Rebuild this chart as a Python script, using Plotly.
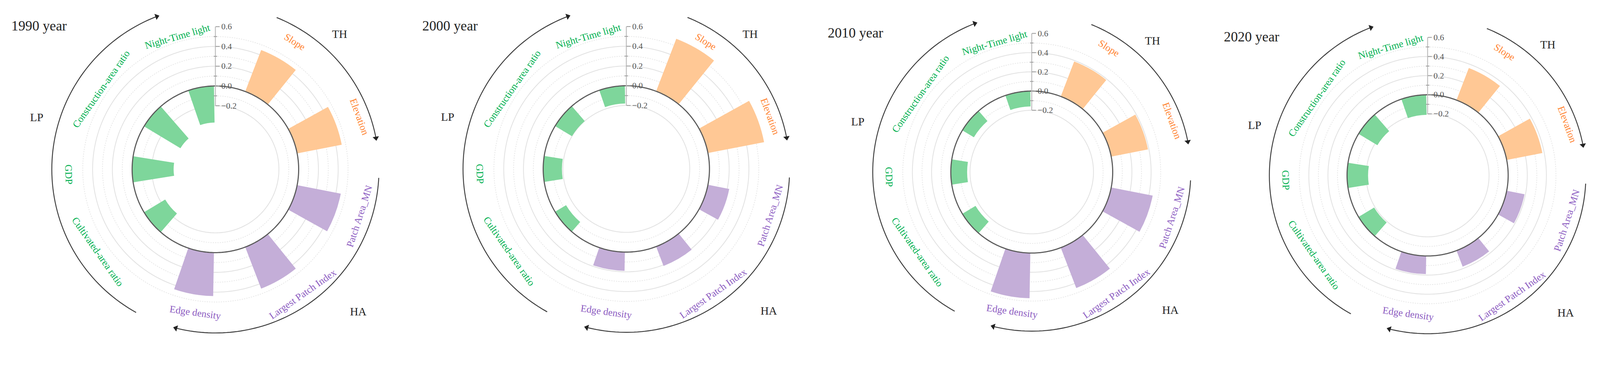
import math
import numpy as np
import plotly.graph_objects as go

# indicators, clockwise from the top
categories = ["Slope", "Elevation", "Patch Area_MN", "Largest Patch Index", "Edge density",
              "Cultivated-area ratio", "GDP", "Construction-area ratio", "Night-Time light"]
groups = ["TH", "TH", "HA", "HA", "HA", "LP", "LP", "LP", "LP"]
years = ["1990 year", "2000 year", "2010 year", "2020 year"]

v1990 = [0.45, 0.46, 0.45, 0.45, 0.44, -0.25, -0.42, -0.43, -0.37]
v2000 = [0.57, 0.58, 0.22, 0.21, 0.19, -0.13, -0.19, -0.20, -0.18]
v2010 = [0.39, 0.39, 0.44, 0.45, 0.47, -0.16, -0.17, -0.14, -0.16]
v2020 = [0.36, 0.38, 0.19, 0.18, 0.19, -0.19, -0.22, -0.23, -0.21]
values = [v1990, v2000, v2010, v2020]

major_ticks = [-0.2, 0.0, 0.2, 0.4, 0.6]
minor_ticks = [-0.1, 0.1, 0.3, 0.5]

bar_colors = {"TH": "#FFC895", "HA": "#C4AED8", "LP": "#7ED69B"}
text_colors = {"TH": "#FF8533", "HA": "#8D5DC2", "LP": "#00B050"}
SERIF = "Liberation Serif"

# the page is photographed a little enlarged, with the body margin on top
F = 1.062          # photo px per css px
OFF = 8.5          # body margin, photo px
H_CSS = 862
PW = 4353 - 2 * OFF
PH = H_CSS * F

R_LO, R_HI = -0.843, 0.83
centers = [(586, 460), (1704, 459), (2807, 467.5), (3884, 476.5)]   # photo px
scales = [268.75, 268.3, 261.25, 260]                                # photo px per unit

n = len(categories)
step = 360 / n
theta = [30 + i * step for i in range(n)]
bar_width = 18

label_angle = [32, 70, 108, 145, 188, 235, 268, 305, 344]
label_r = [0.678, 0.712, 0.687, 0.694, 0.616, 0.607, 0.641, 0.573, 0.556]
arc_r = 0.813
arcs = {"TH": (22, 81), "HA": (93, 196), "LP": (209, 341)}
group_pos = {"TH": (1.258, -1.368), "LP": (-1.81, -0.527), "HA": (1.445, 1.436)}

circle = np.linspace(0, 360, 361)


def fx(xp):
    return (xp - OFF) / PW


def fy(yp):
    return 1 - (yp - OFF) / PH


def paper(k, dx, dy):
    cx, cy = centers[k]
    return fx(cx + dx), fy(cy + dy)


def polar_paper(k, rv, ang):
    r = (rv - R_LO) * scales[k]
    a = math.radians(ang)
    return paper(k, r * math.sin(a), -r * math.cos(a))


def text_angle(a):
    if a <= 90:
        return a
    if a <= 270:
        return a - 180
    return a - 360


def px(v):
    return v / F


fig = go.Figure()
annotations = []
layout = {}

for k in range(4):
    low = "polar" if k == 0 else f"polar{2 * k + 1}"
    top = f"polar{2 * k + 2}"
    cx, cy = centers[k]
    S = scales[k]
    R = (R_HI - R_LO) * S
    dom = dict(x=[fx(cx - R), fx(cx + R)], y=[fy(cy + R), fy(cy - R)])
    ang_ax = dict(visible=False, type="linear", direction="clockwise", rotation=90, thetaunit="degrees")

    layout[low] = dict(domain=dom, bgcolor="white", angularaxis=ang_ax,
                       radialaxis=dict(visible=False, range=[R_LO, R_HI]))
    layout[top] = dict(domain=dom, bgcolor="rgba(0,0,0,0)", angularaxis=ang_ax,
                       radialaxis=dict(range=[R_LO, R_HI], angle=90, side="clockwise", tickangle=90,
                                       tickvals=major_ticks,
                                       ticktext=[f"{t:.1f}".replace("-", "\u2212") for t in major_ticks],
                                       ticks="outside", ticklen=px(11), tickwidth=px(2), tickcolor="#999999",
                                       showline=False, showgrid=False,
                                       tickfont=dict(family=SERIF, size=px(23), color="#555555")))

    # grid rings (under the bars)
    for rv in major_ticks[:-1]:
        if rv == 0:
            continue
        fig.add_trace(go.Scatterpolar(r=[rv] * len(circle), theta=circle, mode="lines",
                                      line=dict(color="#e2e2e2", width=px(2.2)), subplot=low,
                                      hoverinfo="skip", showlegend=False))
    for rv in minor_ticks:
        fig.add_trace(go.Scatterpolar(r=[rv] * len(circle), theta=circle, mode="lines",
                                      line=dict(color="#e6e6e6", width=px(2), dash="dot"), subplot=low,
                                      hoverinfo="skip", showlegend=False))

    # bars
    fig.add_trace(go.Barpolar(r=values[k], theta=theta, width=bar_width, base=0,
                              marker=dict(color=[bar_colors[g] for g in groups], line=dict(width=0)),
                              subplot=top, showlegend=False, name=years[k]))

    # zero ring
    fig.add_trace(go.Scatterpolar(r=[0] * len(circle), theta=circle, mode="lines",
                                  line=dict(color="#5a5a5a", width=px(3)), subplot=top,
                                  hoverinfo="skip", showlegend=False))
    # radial axis line and minor ticks
    fig.add_trace(go.Scatterpolar(r=[major_ticks[0], major_ticks[-1]], theta=[0, 0], mode="lines",
                                  line=dict(color="#bdbdbd", width=px(2.5)), subplot=top,
                                  hoverinfo="skip", showlegend=False))
    fig.add_trace(go.Scatterpolar(r=minor_ticks, theta=[0] * len(minor_ticks), mode="markers",
                                  marker=dict(symbol="line-ew", size=px(7), color="#999999",
                                              line=dict(color="#999999", width=px(2))),
                                  subplot=top, hoverinfo="skip", showlegend=False))

    # group arcs with arrowheads
    for g, (a0, a1) in arcs.items():
        arc_t = np.linspace(a0, a1 - 2, 80)
        fig.add_trace(go.Scatterpolar(r=[arc_r] * len(arc_t), theta=arc_t, mode="lines",
                                      line=dict(color="#3c3c3c", width=px(2.5)), subplot=top,
                                      hoverinfo="skip", showlegend=False))
        fig.add_trace(go.Scatterpolar(r=[arc_r], theta=[a1 - 2], mode="markers",
                                      marker=dict(symbol="triangle-up", size=px(15), color="#222222",
                                                  angle=a1 + 90),
                                      cliponaxis=False, subplot=top, hoverinfo="skip", showlegend=False))

    # indicator labels
    for i, name in enumerate(categories):
        x, y = polar_paper(k, label_r[i], label_angle[i])
        annotations.append(dict(x=x, y=y, xref="paper", yref="paper", text=name, showarrow=False,
                                xanchor="center", yanchor="middle", textangle=text_angle(label_angle[i]),
                                font=dict(family=SERIF, size=px(27), color=text_colors[groups[i]])))
    # group names
    for g, (gx, gy) in group_pos.items():
        x, y = paper(k, gx * S, gy * S)
        annotations.append(dict(x=x, y=y, xref="paper", yref="paper", text=g, showarrow=False,
                                xanchor="center", yanchor="middle",
                                font=dict(family=SERIF, size=px(31), color="#222222")))
    # panel title
    x, y = paper(k, -557, -1.45 * S)
    annotations.append(dict(x=x, y=y, xref="paper", yref="paper", text=years[k], showarrow=False,
                            xanchor="left", yanchor="middle",
                            font=dict(family=SERIF, size=px(38), color="#222222")))

# width follows the browser window, height fixed so the page does not scroll
fig.update_layout(autosize=True, height=H_CSS, margin=dict(l=0, r=0, t=0, b=0),
                  paper_bgcolor="white", showlegend=False, annotations=annotations, **layout)

fig.write_html("out.html")
